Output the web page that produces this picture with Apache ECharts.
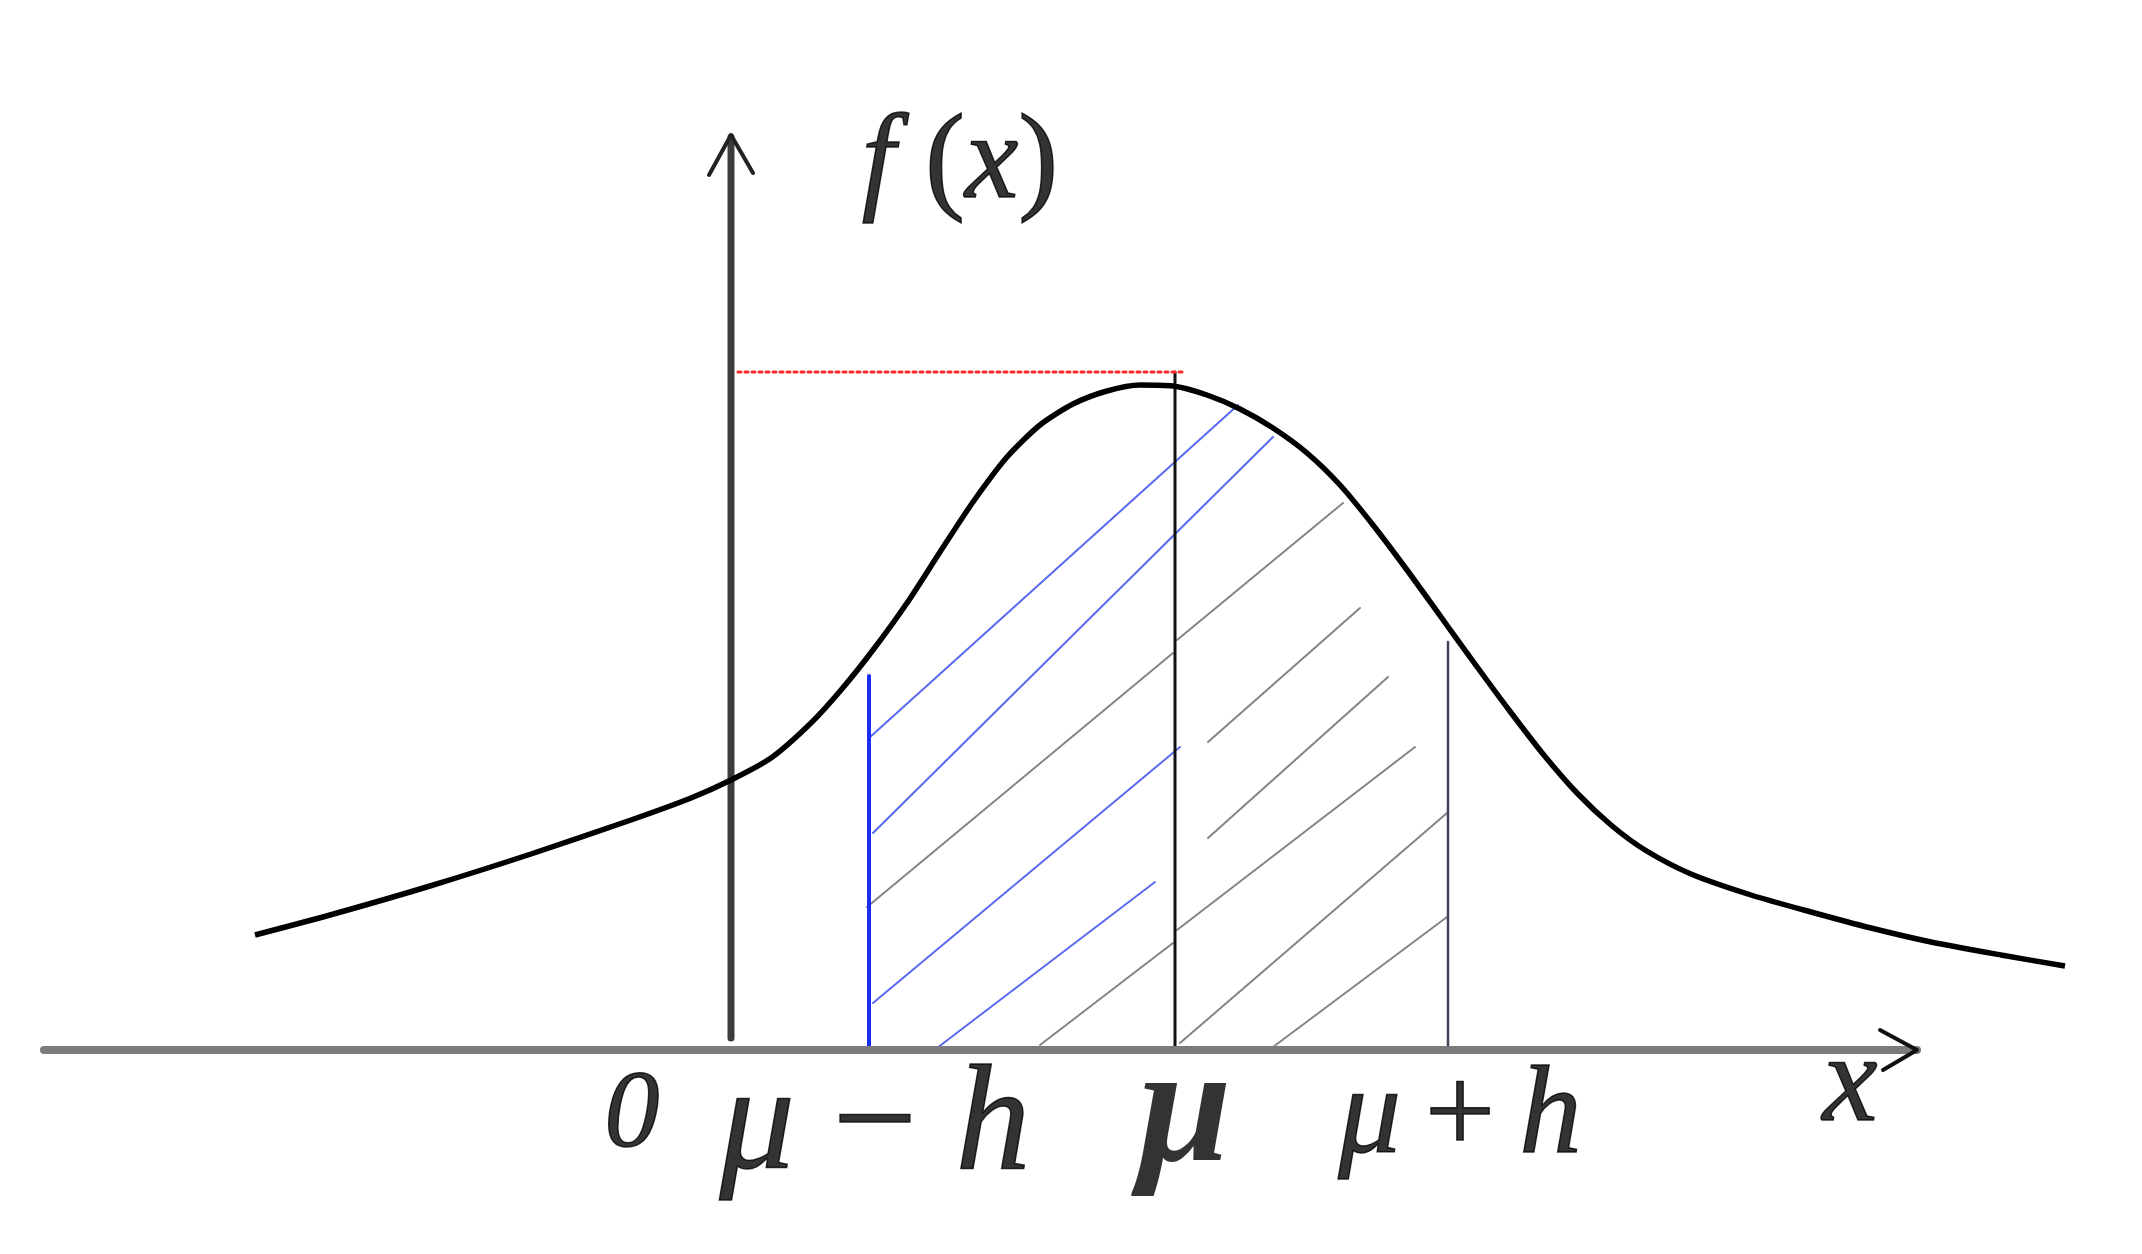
<!DOCTYPE html>
<html>
<head>
<meta charset="utf-8">
<script src="https://cdn.jsdelivr.net/npm/echarts@6/dist/echarts.min.js"></script>
<style>
  html, body { margin: 0; padding: 0; background: #fff; }
  #main { width: 2142px; height: 1254px; }
</style>
</head>
<body>
<div id="main"></div>
<script>
// density curve (x: 0 at the f(x) axis, y: 0 on the x axis)
const curvePoints = [
  [-4.76, 1.15], [-4.01, 1.35], [-3.01, 1.64], [-2.0, 1.96], [-1.0, 2.30],
  [-0.4, 2.52], [0, 2.70], [0.4, 2.92], [0.8, 3.27], [1.1, 3.60],
  [1.42, 4.00], [1.76, 4.47], [2.09, 4.98], [2.42, 5.48], [2.76, 5.93],
  [3.09, 6.25], [3.42, 6.46], [3.76, 6.59], [4.09, 6.65], [4.42, 6.64],
  [4.76, 6.55], [5.09, 6.41], [5.42, 6.22], [5.76, 5.97], [6.09, 5.65],
  [6.42, 5.25], [6.76, 4.80], [7.10, 4.33], [7.44, 3.86], [7.78, 3.40],
  [8.12, 2.96], [8.46, 2.57], [8.80, 2.25], [9.14, 2.00], [9.60, 1.76],
  [10.2, 1.55], [10.8, 1.38], [11.4, 1.22], [12.0, 1.08], [12.7, 0.95],
  [13.34, 0.84]
];

// positions on the x axis
const xMu = 4.44;
const xMuMinusH = 1.38;
const xMuPlusH = 7.17;
const peakY = 6.78;

// hatch strokes [start, end]
const hatchBlue = [
  [[1.38, 3.12], [5.07, 6.45]],
  [[1.42, 2.17], [5.42, 6.13]],
  [[1.42, 0.47], [4.49, 3.03]],
  [[2.06, 0.02], [4.24, 1.68]]
];
const hatchGray = [
  [[1.36, 1.43], [4.42, 3.97]],
  [[4.46, 4.10], [6.12, 5.47]],
  [[3.09, 0.05], [4.42, 1.07]],
  [[4.46, 1.20], [6.84, 3.03]],
  [[4.77, 3.08], [6.29, 4.42]],
  [[4.77, 2.12], [6.57, 3.73]],
  [[4.49, 0.07], [7.16, 2.37]],
  [[5.42, 0.03], [7.16, 1.33]]
];

// axes and arrow heads
const xAxisLine = [[-6.87, 0], [11.86, 0]];
const xArrow = [[11.49, 0.20], [11.86, 0], [11.52, -0.20]];
const yAxisLine = [[0, 0.12], [0, 9.13]];
const yArrow = [[-0.22, 8.75], [0, 9.15], [0.22, 8.77]];

// labels: text, position, font size, spacing round the upright signs
const labelTexts = ['{i|f}{p|(}{i|x}{o|)}', '{i|0}', '{i|μ}{o|−}{i|h}', '{b|μ}', '{i|μ}{o|+}{i|h}', '{i|x}'];
const labelAt = [[2.29, 8.85], [-0.99, -0.67], [1.44, -0.79], [4.54, -0.67], [7.29, -0.69], [11.19, -0.37]];
const labelSize = [120, 110, 150, 168, 125, 124];
const labelGap = [0, 0, 38, 0, 24, 0];

const serif = "'Liberation Serif', 'Times New Roman', 'DejaVu Serif', serif";

const chart = echarts.init(document.getElementById('main'));

function seg(data, color, width, z, type) {
  return {
    type: 'line',
    data: data,
    symbol: 'none',
    silent: true,
    z: z,
    lineStyle: { color: color, width: width, type: type || 'solid', cap: 'round', join: 'round' }
  };
}

const series = [];

hatchBlue.forEach(function (h) { series.push(seg(h, 'rgba(60,80,240,0.85)', 2, 2)); });
hatchGray.forEach(function (h) { series.push(seg(h, 'rgba(90,90,100,0.75)', 2, 2)); });

series.push(seg([[xMuMinusH, 0], [xMuMinusH, 3.74]], '#1a2cf0', 4, 3));
series.push(seg([[xMu, 0], [xMu, peakY]], '#111', 3, 3));
series.push(seg([[xMuPlusH, 0], [xMuPlusH, 4.08]], '#3d4557', 2.5, 3));
series.push(seg([[0.07, peakY], [4.51, peakY]], '#ff2a2a', 3, 3, [3, 4]));

series.push({
  type: 'line',
  data: curvePoints,
  smooth: 0.25,
  symbol: 'none',
  silent: true,
  z: 5,
  lineStyle: { color: '#000', width: 5.5 }
});

series.push(seg(yAxisLine, '#3c3c3c', 7, 4));
series.push(seg(yArrow, '#222', 4, 4));
series.push(seg(xAxisLine, '#7b7b7b', 8, 6));
series.push(seg(xArrow, '#111', 4, 6));

series.push({
  type: 'scatter',
  symbolSize: 0,
  silent: true,
  z: 7,
  itemStyle: { color: '#000' },
  data: labelAt.map(function (p, k) {
    const fs = labelSize[k];
    const g = labelGap[k];
    const base = { fontFamily: serif, fontSize: fs, color: '#000', lineHeight: fs, textBorderColor: '#000', textBorderWidth: 1.5 };
    return {
      value: p,
      label: {
        show: true,
        position: [0, 0],
        align: 'center',
        verticalAlign: 'middle',
        color: '#000',
        formatter: labelTexts[k],
        rich: {
          i: Object.assign({}, base, { fontStyle: 'italic' }),
          b: Object.assign({}, base, { fontStyle: 'italic', fontWeight: 'bold', textBorderWidth: 0 }),
          o: Object.assign({}, base, { padding: [0, g, 0, g] }),
          p: Object.assign({}, base, { padding: [0, 0, 0, 30] })
        }
      }
    };
  })
});

chart.setOption({
  animation: false,
  backgroundColor: '#fff',
  grid: { left: 0, right: 0, top: 0, bottom: 0 },
  xAxis: { type: 'value', min: -7.31, max: 14.11, show: false },
  yAxis: { type: 'value', min: -2.04, max: 10.5, show: false },
  series: series
});
</script>
</body>
</html>
